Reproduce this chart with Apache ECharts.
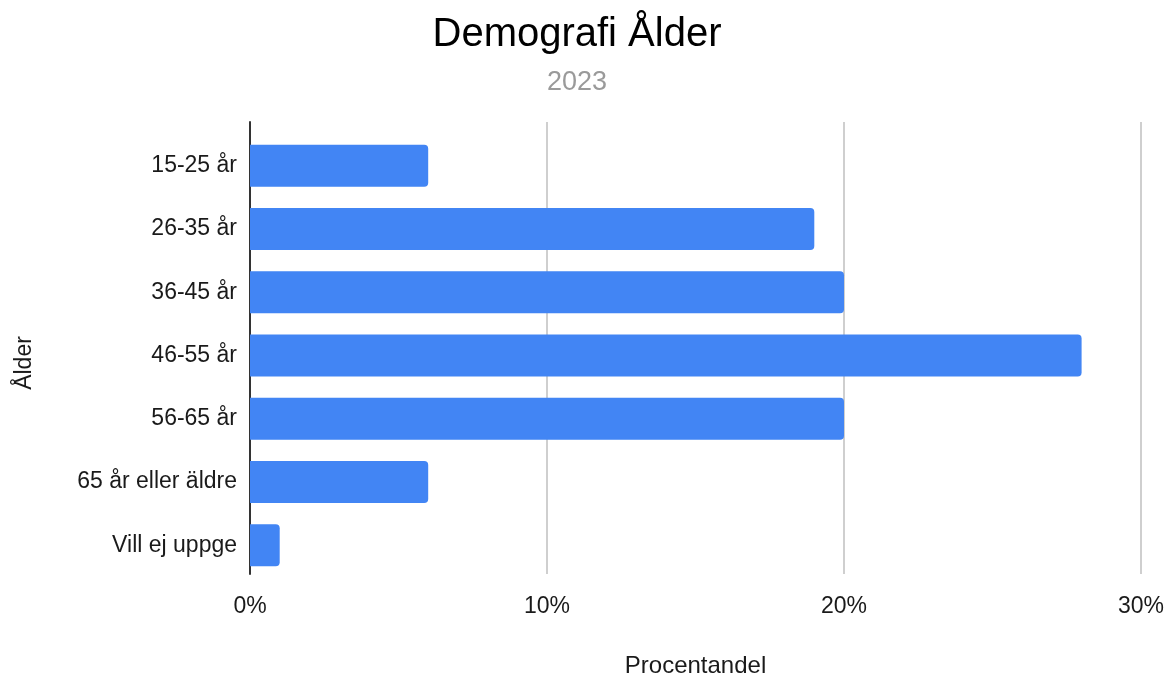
<!DOCTYPE html>
<html>
<head>
<meta charset="utf-8">
<script src="https://cdn.jsdelivr.net/npm/echarts@6/dist/echarts.min.js"></script>
<style>
html, body { margin: 0; padding: 0; background: #fff; }
#chart { width: 1170px; height: 683px; }
</style>
</head>
<body>
<div id="chart"></div>
<script>
const categories = ['15-25 år', '26-35 år', '36-45 år', '46-55 år', '56-65 år', '65 år eller äldre', 'Vill ej uppge'];
const shares = [6, 19, 20, 28, 20, 6, 1];
const titleText = 'Demografi Ålder';
const subtitleText = '2023';
const xAxisName = 'Procentandel';
const yAxisName = 'Ålder';

const font = "'Liberation Sans', Arial, Helvetica, sans-serif";
const color = {
    bar: '#4285f4',
    text: '#1a1a1a',
    grid: '#cfcfcf',
    axis: '#333333',
    sub: '#9a9a9a',
};

const chart = echarts.init(document.getElementById('chart'));
chart.setOption({
    animation: false,
    textStyle: { fontFamily: font },
    title: {
        text: titleText,
        subtext: subtitleText,
        left: 572,
        textAlign: 'center',
        top: 10,
        itemGap: 14,
        textStyle: { fontSize: 40, fontWeight: 'normal', color: '#000', fontFamily: font },
        subtextStyle: { fontSize: 27, color: color.sub, fontFamily: font },
    },
    grid: [
        // outer frame: gridlines + axis line
        { left: 250, right: 29, top: 122, bottom: 95 },
        // inner frame: bars + category labels
        { left: 250, right: 29, top: 134, bottom: 106 },
    ],
    xAxis: [
        {
            gridIndex: 0,
            type: 'value',
            min: 0,
            max: 30,
            interval: 10,
            axisLine: { show: false },
            axisTick: { show: false },
            axisLabel: { formatter: '{value}%', fontSize: 23, color: color.text, margin: 21 },
            splitLine: { show: true, lineStyle: { color: color.grid, width: 2 } },
            name: xAxisName,
            nameLocation: 'middle',
            nameGap: 80,
            nameTextStyle: { fontSize: 24, color: color.text },
        },
        {
            gridIndex: 1,
            type: 'value',
            min: 0,
            max: 30,
            show: false,
        },
    ],
    yAxis: [
        {
            gridIndex: 0,
            type: 'value',
            min: 0,
            max: 1,
            axisLine: { show: true, lineStyle: { color: color.axis, width: 2 } },
            axisTick: { show: false },
            axisLabel: { show: false },
            splitLine: { show: false },
            name: yAxisName,
            nameLocation: 'middle',
            nameGap: 214,
            nameTextStyle: { fontSize: 23, color: color.text, padding: [0, 30, 0, 0] },
        },
        {
            gridIndex: 1,
            type: 'category',
            inverse: true,
            data: categories,
            axisLine: { show: false },
            axisTick: { show: false },
            axisLabel: { fontSize: 23, color: color.text, margin: 13 },
        },
    ],
    series: [
        {
            type: 'bar',
            xAxisIndex: 1,
            yAxisIndex: 1,
            data: shares,
            barWidth: 42,
            itemStyle: { color: color.bar, borderRadius: [0, 4, 4, 0] },
        },
    ],
});
</script>
</body>
</html>
